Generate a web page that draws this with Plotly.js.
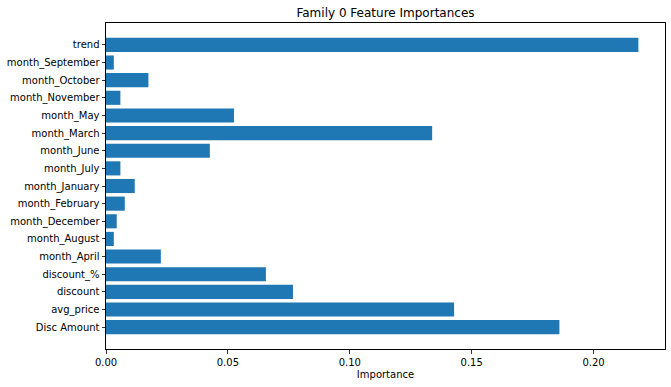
<!DOCTYPE html>
<html>
<head>
<meta charset="utf-8">
<script src="https://cdn.plot.ly/plotly-3.0.1.min.js"></script>
<style>html,body{margin:0;padding:0;background:#fff;}#chart{width:671px;height:387px;}</style>
</head>
<body>
<div id="chart"></div>
<script>
const features = ["Disc Amount","avg_price","discount","discount_%","month_April","month_August","month_December","month_February","month_January","month_July","month_June","month_March","month_May","month_November","month_October","month_September","trend"];
const importances = [0.1860,0.1428,0.0767,0.0656,0.0225,0.0032,0.0044,0.0077,0.0118,0.0059,0.0426,0.1338,0.0525,0.0059,0.0174,0.0032,0.2184];
const xTicks = [0,0.05,0.10,0.15,0.20];
const xTickLabels = ["0.00","0.05","0.10","0.15","0.20"];

const font = "DejaVu Sans, sans-serif";
const maxVal = Math.max(...importances);
const n = features.length;

Plotly.newPlot('chart', [{
  type: 'bar',
  orientation: 'h',
  y: features,
  x: importances,
  marker: {color: '#1f77b4', line: {width: 0}},
  hoverinfo: 'x+y'
}], {
  width: 671, height: 387,
  margin: {l: 106, r: 6, t: 23, b: 38},
  paper_bgcolor: '#fff', plot_bgcolor: '#fff',
  bargap: 0.2,
  showlegend: false,
  font: {family: font, size: 10, color: '#000'},
  title: {text: 'Family 0 Feature Importances', font: {family: font, size: 12, color: '#000'},
          x: 0.5, xref: 'paper', xanchor: 'center', y: 1 - 13/387, yref: 'container', yanchor: 'middle'},
  xaxis: {
    range: [0, maxVal * 1.05],
    tickvals: xTicks, ticktext: xTickLabels,
    ticks: 'outside', ticklen: 3.5, tickwidth: 0.8, tickcolor: '#000',
    showline: true, linecolor: '#000', linewidth: 1, mirror: true,
    showgrid: false, zeroline: false,
    tickfont: {family: font, size: 10, color: '#000'},
    title: {text: 'Importance', font: {family: font, size: 10, color: '#000'}, standoff: 4},
    automargin: false
  },
  yaxis: {
    type: 'category',
    categoryorder: 'array', categoryarray: features,
    range: [-0.4 - 0.84, n - 1 + 0.4 + 0.84],
    ticks: 'outside', ticklen: 3.5, tickwidth: 0.8, tickcolor: '#000',
    showline: true, linecolor: '#000', linewidth: 1, mirror: true,
    showgrid: false, zeroline: false,
    tickfont: {family: font, size: 10, color: '#000'},
    automargin: false
  }
}, {displayModeBar: false, staticPlot: true});
</script>
</body>
</html>
